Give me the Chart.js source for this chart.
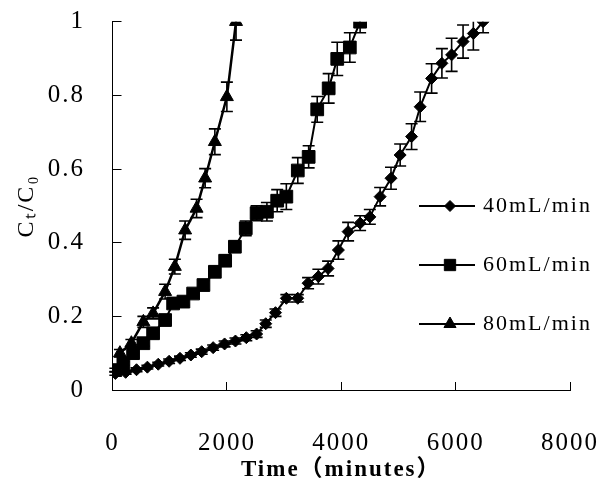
<!DOCTYPE html>
<html><head><meta charset="utf-8">
<script src="https://cdn.jsdelivr.net/npm/chart.js@4/dist/chart.umd.min.js"></script>
<style>html,body{margin:0;padding:0;background:#fff;} #wrap{width:604px;height:492px;}</style>
</head><body><div id="wrap"><canvas id="c" width="604" height="492"></canvas></div>
<script>
// ---- data ----
const seriesNames = ['40mL/min', '60mL/min', '80mL/min'];

const time40 = [50, 230, 420, 610, 800, 990, 1180, 1370, 1560, 1760, 1960, 2150, 2340, 2520, 2680, 2850,
                3040, 3240, 3420, 3600, 3770, 3950, 4120, 4330, 4500, 4680, 4870, 5030, 5230, 5380, 5580, 5760, 5930, 6130, 6310, 6480];
const ct40 = [0.045, 0.048, 0.055, 0.062, 0.070, 0.078, 0.086, 0.095, 0.104, 0.115, 0.125, 0.133, 0.142, 0.152, 0.180, 0.210,
              0.249, 0.249, 0.290, 0.308, 0.330, 0.380, 0.430, 0.453, 0.470, 0.525, 0.575, 0.638, 0.688, 0.769, 0.846, 0.887, 0.910, 0.946, 0.968, 1.000];
const err40 = [0.005, 0.005, 0.005, 0.005, 0.005, 0.006, 0.006, 0.006, 0.007, 0.007, 0.008, 0.008, 0.008, 0.009, 0.010, 0.010,
               0.010, 0.010, 0.015, 0.020, 0.020, 0.025, 0.025, 0.020, 0.020, 0.025, 0.030, 0.030, 0.035, 0.040, 0.040, 0.040, 0.045, 0.045, 0.045, 0.030];

const time60 = [50, 190, 360, 540, 710, 920, 1060, 1240, 1410, 1590, 1790, 1970, 2140, 2330, 2520, 2700, 2880, 3040, 3240, 3430, 3580, 3780, 3930, 4150, 4330];
const ct60 = [0.054, 0.072, 0.100, 0.127, 0.154, 0.190, 0.235, 0.240, 0.262, 0.285, 0.321, 0.351, 0.389, 0.439, 0.480, 0.484, 0.514, 0.525, 0.596, 0.633, 0.762, 0.819, 0.899, 0.930, 1.000];
const err60 = [0.005, 0.005, 0.008, 0.008, 0.010, 0.010, 0.010, 0.010, 0.012, 0.012, 0.015, 0.015, 0.015, 0.020, 0.020, 0.025, 0.030, 0.035, 0.035, 0.030, 0.035, 0.040, 0.045, 0.040, 0.030];

const time80 = [130, 330, 540, 710, 920, 1090, 1270, 1470, 1620, 1790, 2000, 2160];
const ct80 = [0.100, 0.127, 0.185, 0.208, 0.267, 0.335, 0.434, 0.493, 0.575, 0.674, 0.796, 1.000];
const err80 = [0.010, 0.010, 0.015, 0.015, 0.020, 0.020, 0.025, 0.025, 0.026, 0.035, 0.040, 0.050];

const xTickLabels = ['0', '2000', '4000', '6000', '8000'];
const yTickLabels = ['0', '0.2', '0.4', '0.6', '0.8', '1'];
const xTitle = 'Time（minutes）';
const yTitle = 'Cₜ/C₀';

// ---- helpers ----
const toPoints = (xs, ys) => xs.map((x, i) => ({x: x, y: ys[i]}));

function legendIcon(style, radius) {
  const cv = document.createElement('canvas');
  cv.width = 56; cv.height = 20;
  const g = cv.getContext('2d');
  g.strokeStyle = '#000'; g.lineWidth = 2;
  g.beginPath(); g.moveTo(0, 10); g.lineTo(56, 10); g.stroke();
  g.fillStyle = '#000'; g.lineWidth = 1;
  Chart.helpers.drawPoint(g, {pointStyle: style, radius: radius, rotation: 0, borderWidth: 1}, 31, 10);
  return cv;
}

const markerStyles = ['rectRot', 'rect', 'triangle'];
const markerRadius = [6, 9, 7.5];
const legendRadius = [5.5, 8, 7];

Chart.defaults.font.family = "'Liberation Serif', 'Times New Roman', 'Noto Sans CJK SC', serif";
Chart.defaults.color = '#000';

const spacingPlugin = {
  id: 'spacing',
  beforeUpdate(chart) { chart.ctx.letterSpacing = '2px'; },
  beforeDraw(chart) { chart.ctx.letterSpacing = '2px'; }
};

const legendPlacePlugin = {
  id: 'legendPlace',
  afterLayout(chart) {
    const lg = chart.legend;
    if (!lg) return;
    const w = lg.width;
    lg.left = 385; lg.top = 158;
    lg.right = lg.left + w;
    lg.bottom = 492; lg.height = lg.bottom - lg.top;
  }
};

const errorBarPlugin = {
  id: 'errorBars',
  afterDatasetsDraw(chart) {
    const {ctx, chartArea: a, scales: {x, y}} = chart;
    ctx.save();
    ctx.beginPath();
    ctx.rect(a.left - 10, a.top, a.right - a.left + 20, a.bottom - a.top);
    ctx.clip();
    ctx.strokeStyle = '#000';
    ctx.lineWidth = 1.6;
    chart.data.datasets.forEach(ds => {
      const errs = ds.errors || [];
      ds.data.forEach((p, j) => {
        const e = errs[j] || 0;
        const px = x.getPixelForValue(p.x);
        const yt = y.getPixelForValue(p.y + e);
        const yb = y.getPixelForValue(p.y - e);
        ctx.beginPath();
        ctx.moveTo(px, yt); ctx.lineTo(px, yb);
        ctx.moveTo(px - 6, yt); ctx.lineTo(px + 6, yt);
        ctx.moveTo(px - 6, yb); ctx.lineTo(px + 6, yb);
        ctx.stroke();
      });
    });
    ctx.restore();
  }
};

const zeroPad = (s) => { s.paddingLeft = 0; s.paddingRight = 0; s.paddingTop = 0; s.paddingBottom = 0; };

const seriesX = [time40, time60, time80];
const seriesY = [ct40, ct60, ct80];
const seriesErr = [err40, err60, err80];
const lineWidths = [2, 2, 2.5];

const datasets = seriesNames.map((name, i) => ({
  label: name,
  data: toPoints(seriesX[i], seriesY[i]),
  errors: seriesErr[i],
  showLine: true,
  borderColor: '#000',
  backgroundColor: '#000',
  borderWidth: lineWidths[i],
  pointStyle: markerStyles[i],
  pointRadius: markerRadius[i],
  pointBorderWidth: 1,
  pointBackgroundColor: '#000',
  pointBorderColor: '#000',
  tension: 0
}));

const legendIcons = markerStyles.map((s, i) => legendIcon(s, legendRadius[i]));

new Chart(document.getElementById('c'), {
  type: 'scatter',
  data: {datasets: datasets},
  plugins: [spacingPlugin, legendPlacePlugin, errorBarPlugin],
  options: {
    responsive: false,
    animation: false,
    devicePixelRatio: 1,
    layout: {autoPadding: false, padding: {left: 0, right: 34, top: 21.7, bottom: 0}},
    plugins: {
      tooltip: {enabled: false},
      legend: {
        position: 'chartArea',
        fullSize: false,
        align: 'start',
        labels: {
          usePointStyle: true,
          pointStyleWidth: 50,
          padding: 37,
          color: '#000',
          font: {size: 22},
          generateLabels(chart) {
            const items = Chart.defaults.plugins.legend.labels.generateLabels(chart);
            items.forEach((it, i) => { it.pointStyle = legendIcons[i]; });
            return items;
          }
        }
      }
    },
    scales: {
      x: {
        type: 'linear',
        min: 0, max: 8000,
        afterFit(s) { s.height = 102; zeroPad(s); },
        border: {color: '#000', width: 1},
        grid: {drawOnChartArea: false, drawTicks: true, tickLength: -8, tickColor: '#000', tickWidth: 1},
        ticks: {stepSize: 2000, padding: 46.5, color: '#000', font: {size: 25},
                maxRotation: 0, autoSkip: false,
                callback: (v, i) => xTickLabels[i]},
        title: {display: true, text: xTitle, color: '#000',
                font: {size: 23, weight: 'bold'}, padding: {top: 0, bottom: 8}}
      },
      y: {
        type: 'linear',
        min: 0, max: 1,
        afterFit(s) { s.width = 112.5; zeroPad(s); },
        border: {color: '#000', width: 1},
        grid: {drawOnChartArea: false, drawTicks: true, tickLength: -9, tickColor: '#000', tickWidth: 1},
        ticks: {stepSize: 0.2, padding: 36.5, color: '#000', font: {size: 25},
                callback: (v, i) => yTickLabels[i]},
        title: {display: true, text: yTitle, color: '#000',
                font: {size: 24}, padding: {top: 12.6, bottom: 0}}
      }
    }
  }
});
</script>
</body></html>
